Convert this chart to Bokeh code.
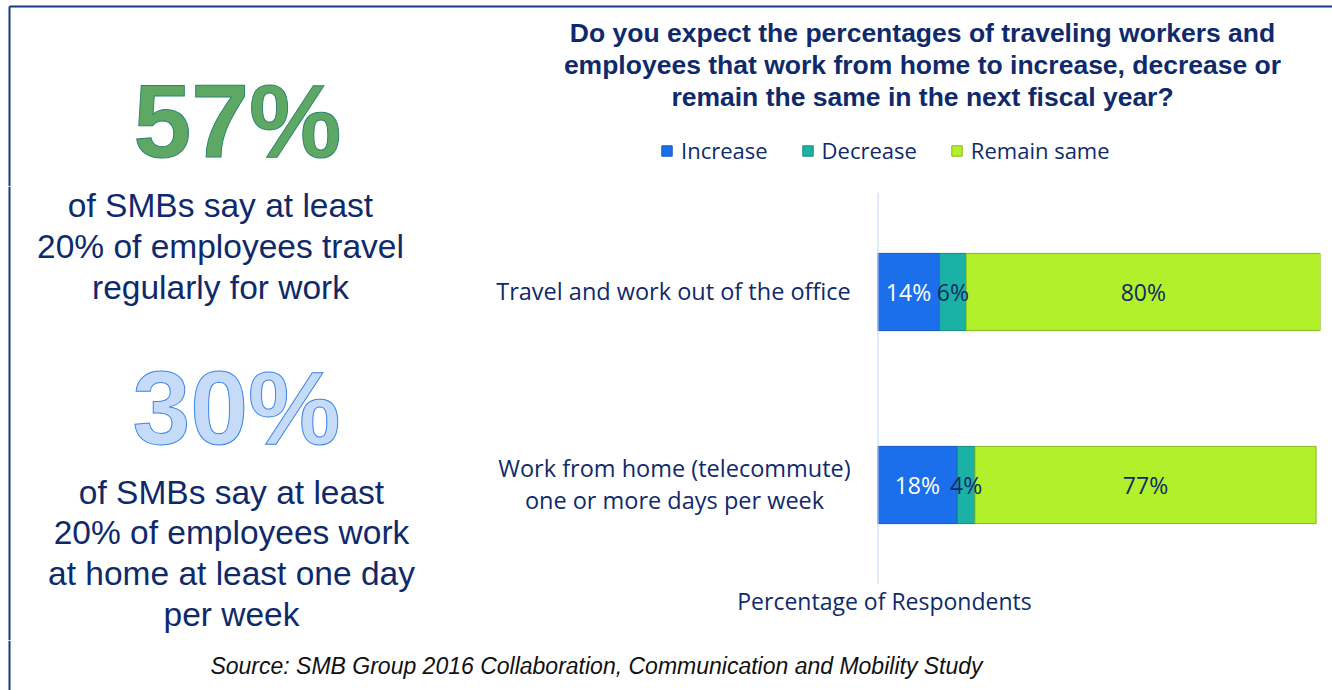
from bokeh.plotting import figure
from bokeh.layouts import column, row
from bokeh.models import (ColumnDataSource, FactorRange, Range1d, Label, Legend, LegendItem, Span)
from bokeh.core.properties import value
from bokeh.embed import file_html
from bokeh.resources import INLINE

# ---------------- data ----------------
categories = ["Travel and work out of the office",
              "Work from home (telecommute) one or more days per week"]
category_lines = [["Travel and work out of the office"],
                  ["Work from home (telecommute)", "one or more days per week"]]
series = ["Increase", "Decrease", "Remain same"]
increase = [14, 18]
decrease = [6, 4]
remain_same = [80, 77]

title_lines = ["Do you expect the percentages of traveling workers and",
               "employees that work from home to increase, decrease or",
               "remain the same in the next fiscal year?"]
x_axis_label = "Percentage of Respondents"
stat1_value = "57%"
stat1_lines = ["of SMBs say at least", "20% of employees travel", "regularly for work"]
stat2_value = "30%"
stat2_lines = ["of SMBs say at least", "20% of employees work",
               "at home at least one day", "per week"]
source_note = "Source: SMB Group 2016 Collaboration, Communication and Mobility Study"

# ---------------- style / geometry ----------------
NAVY = "#0F2A6B"
BORDER = "#1B3A7E"
fills = ["#1C6FEA", "#1BB2A5", "#B2F02C"]
edges = ["#1456C4", "#11897F", "#86B81C"]
label_colors = ["white", NAVY, NAVY]
SANS = "Liberation Sans"
HUMAN = "Open Sans"

W, H = 1332, 690
TOP_BOT = 186            # end of title / legend band
MID_BOT = 640            # end of the middle band (source note below)
STAT_X = 470             # left stat column | right chart column
SPLIT_X = 875            # category labels | bars
CH_TOP, CH_BOT = 192, 584  # band holding category labels and bars
FL, FR = 877, 1320       # 0% and 100% on the page
BAR_STEP = 193           # pixels per category


def text_fig(w, h):
    f = figure(width=w, height=h, output_backend="svg", toolbar_location=None,
               x_range=Range1d(0, w), y_range=Range1d(h, 0),
               x_axis_type=None, y_axis_type=None,
               min_border=0, min_border_left=0, min_border_right=0,
               min_border_top=0, min_border_bottom=0)
    f.grid.visible = False
    f.outline_line_color = None
    f.background_fill_color = "white"
    f.border_fill_color = "white"
    return f


origins = {}


def make(w, h, ox, oy):
    f = text_fig(w, h)
    origins[id(f)] = (ox, oy)
    return f


top = make(W, TOP_BOT, 0, 0)
stat = make(STAT_X, MID_BOT - TOP_BOT, 0, TOP_BOT)
gap = make(W - STAT_X, CH_TOP - TOP_BOT, STAT_X, TOP_BOT)
cats = make(SPLIT_X - STAT_X, CH_BOT - CH_TOP, STAT_X, CH_TOP)
axisf = make(W - STAT_X, MID_BOT - CH_BOT, STAT_X, CH_BOT)
bottom = make(W, H - MID_BOT, 0, MID_BOT)


def put(f, text, px, py, size, color=NAVY, font=SANS, style="normal", outline=None):
    """px, py: page position of the text's horizontal centre / cap-height centre."""
    ox, oy = origins[id(f)]
    kw = {}
    if outline:
        kw["text_outline_color"] = outline
    f.add_layout(Label(x=px - ox, y=py - oy - 0.5, text=text, text_font=font,
                       text_font_size=f"{size}px", text_color=color,
                       text_font_style=style, text_align="center",
                       text_baseline="alphabetic", **kw))


# page border: top line and left line
top.segment(x0=[9], y0=[6], x1=[W], y1=[6], line_color=BORDER, line_width=2)
top.segment(x0=[9], y0=[6], x1=[9], y1=[TOP_BOT], line_color=BORDER, line_width=2)
for f in (stat, bottom):
    f.segment(x0=[9], y0=[0], x1=[9], y1=[f.height], line_color=BORDER, line_width=2)

# ---------------- chart ----------------
ch_h = CH_BOT - CH_TOP
pad = (ch_h / BAR_STEP - len(categories)) / 2
chart = figure(width=FR + 4 - SPLIT_X, height=ch_h,
               output_backend="svg", toolbar_location=None,
               x_range=Range1d(0, 100),
               y_range=FactorRange(factors=categories[::-1], range_padding=pad,
                                   range_padding_units="absolute"),
               x_axis_location=None, y_axis_location=None,
               min_border=0, min_border_left=FL - SPLIT_X, min_border_right=4,
               min_border_top=0, min_border_bottom=0)
chart.grid.visible = False
chart.outline_line_color = None
chart.background_fill_color = "white"
chart.border_fill_color = "white"
chart.add_layout(Span(location=0, dimension="height", line_color="#C9D7F2", line_width=2))

src = ColumnDataSource(dict(cat=categories, Increase=increase, Decrease=decrease,
                            **{"Remain same": remain_same}))
chart.hbar_stack(series, y="cat", height=0.4, source=src,
                 fill_color=fills, line_color=edges, line_width=1)

vals = [increase, decrease, remain_same]
lx, ly, lt, lc = [], [], [], []
for i, cat in enumerate(categories):
    acc = 0
    for k in range(len(series)):
        v = vals[k][i]
        lx.append(acc + v / 2)
        ly.append(cat)
        lt.append(f"{v}%")
        lc.append(label_colors[k])
        acc += v
chart.text(x="x", y="y", text="t", text_color="c",
           source=ColumnDataSource(dict(x=lx, y=ly, t=lt, c=lc)),
           text_align="center", text_baseline="middle",
           text_font=value(HUMAN), text_font_size="23px")

# legend swatches: zero-size bars styled like the series (they draw nothing themselves)
proxy_src = ColumnDataSource(dict(y=[0], l=[0], r=[0]))
proxies = [top.hbar(y="y", left="l", right="r", height=0, source=proxy_src,
                    fill_color=fills[k], line_color=edges[k], line_width=1)
           for k in range(len(series))]
legend = Legend(items=[LegendItem(label=s, renderers=[r]) for s, r in zip(series, proxies)],
                orientation="horizontal", location=(660, TOP_BOT - 165),
                glyph_width=13, glyph_height=13, label_standoff=8, spacing=33,
                padding=0, margin=0, border_line_color=None, background_fill_alpha=0,
                label_text_font=HUMAN, label_text_font_size="22px",
                label_text_color=NAVY)
top.add_layout(legend)

# ---------------- texts ----------------
for i, t in enumerate(title_lines):
    put(top, t, 922, 33 + 32 * i, 26.5, style="bold")
put(top, stat1_value, 237, 121, 104, color="#5FA863", style="bold", outline="#2B8572")

for i, t in enumerate(stat1_lines):
    put(stat, t, 220, 205 + 41 * i, 33.5)
put(stat, stat2_value, 236, 408, 104, color="#C6DBF7", style="bold", outline="#3D86E8")
for i, t in enumerate(stat2_lines):
    put(stat, t, 231, 492 + 40.7 * i, 33.5)

put(cats, category_lines[0][0], 673, 291, 23.5, font=HUMAN)
put(cats, category_lines[1][0], 674, 468, 23.5, font=HUMAN)
put(cats, category_lines[1][1], 674, 500, 23.5, font=HUMAN)

put(axisf, x_axis_label, 884, 601, 23, font=HUMAN)
put(bottom, source_note, 596, 666, 23, color="#111111", style="italic")

layout = column(top,
                row(stat, column(gap, row(cats, chart), axisf)),
                bottom)
open("out.html", "w").write(file_html(layout, INLINE))
